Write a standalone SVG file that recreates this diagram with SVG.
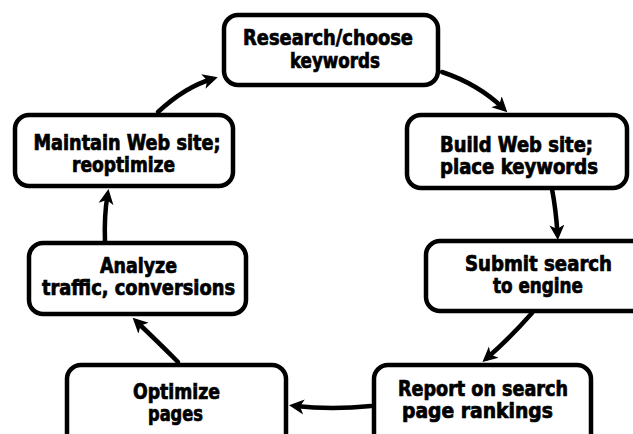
<svg xmlns="http://www.w3.org/2000/svg" width="633" height="434" viewBox="0 0 633 434">
<defs>
<style>
.box{fill:#fff;stroke:#000;stroke-width:4.5}
.t{font-family:"DejaVu Sans Condensed","Liberation Sans Narrow","Liberation Sans",sans-serif;font-weight:bold;font-size:20.5px;fill:#000;stroke:#000;stroke-width:0.7;text-anchor:middle}
.c{fill:none;stroke:#000;stroke-width:4.5;stroke-linecap:round}
</style>
<marker id="ah" markerUnits="userSpaceOnUse" markerWidth="20" markerHeight="20" viewBox="0 -10 20 20" refX="9" refY="0" orient="auto">
<path d="M0,-7.5 L15,0 L0,7.5 L4,0 Z" fill="#000"/>
</marker>
</defs>
<rect width="633" height="434" fill="#fff"/>
<g id="connectors">
<path class="c" d="M158,112 Q185,87 212,79" marker-end="url(#ah)"/>
<path class="c" d="M442,72 Q478,84 503,108" marker-end="url(#ah)"/>
<path class="c" d="M552,189 Q556,210 557.5,234" marker-end="url(#ah)"/>
<path class="c" d="M532,313 Q510,338 487,358" marker-end="url(#ah)"/>
<path class="c" d="M371,406 Q332,410 295,406" marker-end="url(#ah)"/>
<path class="c" d="M178,362 Q156,340 137,322" marker-end="url(#ah)"/>
<path class="c" d="M105,242 Q104,216 107.5,195" marker-end="url(#ah)"/>
</g>
<g id="research">
<rect class="box" x="224" y="15" width="214" height="70" rx="14"/>
<text class="t" x="328" y="45" textLength="170" lengthAdjust="spacingAndGlyphs">Research/choose</text>
<text class="t" x="335" y="68" textLength="90" lengthAdjust="spacingAndGlyphs">keywords</text>
</g>
<g id="maintain">
<rect class="box" x="15" y="115" width="218" height="71" rx="14"/>
<text class="t" x="127" y="150" textLength="187" lengthAdjust="spacingAndGlyphs">Maintain Web site;</text>
<text class="t" x="123.5" y="172" textLength="103" lengthAdjust="spacingAndGlyphs">reoptimize</text>
</g>
<g id="build">
<rect class="box" x="407" y="115" width="220" height="73" rx="14"/>
<text class="t" x="516.5" y="152" textLength="153" lengthAdjust="spacingAndGlyphs">Build Web site;</text>
<text class="t" x="519" y="174" textLength="158" lengthAdjust="spacingAndGlyphs">place keywords</text>
</g>
<g id="submit">
<rect class="box" x="426" y="241" width="220" height="70" rx="14"/>
<text class="t" x="538.5" y="271" textLength="147" lengthAdjust="spacingAndGlyphs">Submit search</text>
<text class="t" x="538" y="293" textLength="90" lengthAdjust="spacingAndGlyphs">to engine</text>
</g>
<g id="report">
<rect class="box" x="374" y="365" width="217" height="90" rx="14"/>
<text class="t" x="483" y="396" textLength="170" lengthAdjust="spacingAndGlyphs">Report on search</text>
<text class="t" x="477.5" y="418" textLength="151" lengthAdjust="spacingAndGlyphs">page rankings</text>
</g>
<g id="optimize">
<rect class="box" x="67" y="365" width="219" height="90" rx="14"/>
<text class="t" x="176.5" y="399" textLength="87" lengthAdjust="spacingAndGlyphs">Optimize</text>
<text class="t" x="175.5" y="421" textLength="55" lengthAdjust="spacingAndGlyphs">pages</text>
</g>
<g id="analyze">
<rect class="box" x="29" y="243" width="217" height="71" rx="14"/>
<text class="t" x="138.5" y="273" textLength="77" lengthAdjust="spacingAndGlyphs">Analyze</text>
<text class="t" x="138.5" y="295" textLength="193" lengthAdjust="spacingAndGlyphs">traffic, conversions</text>
</g>
</svg>
